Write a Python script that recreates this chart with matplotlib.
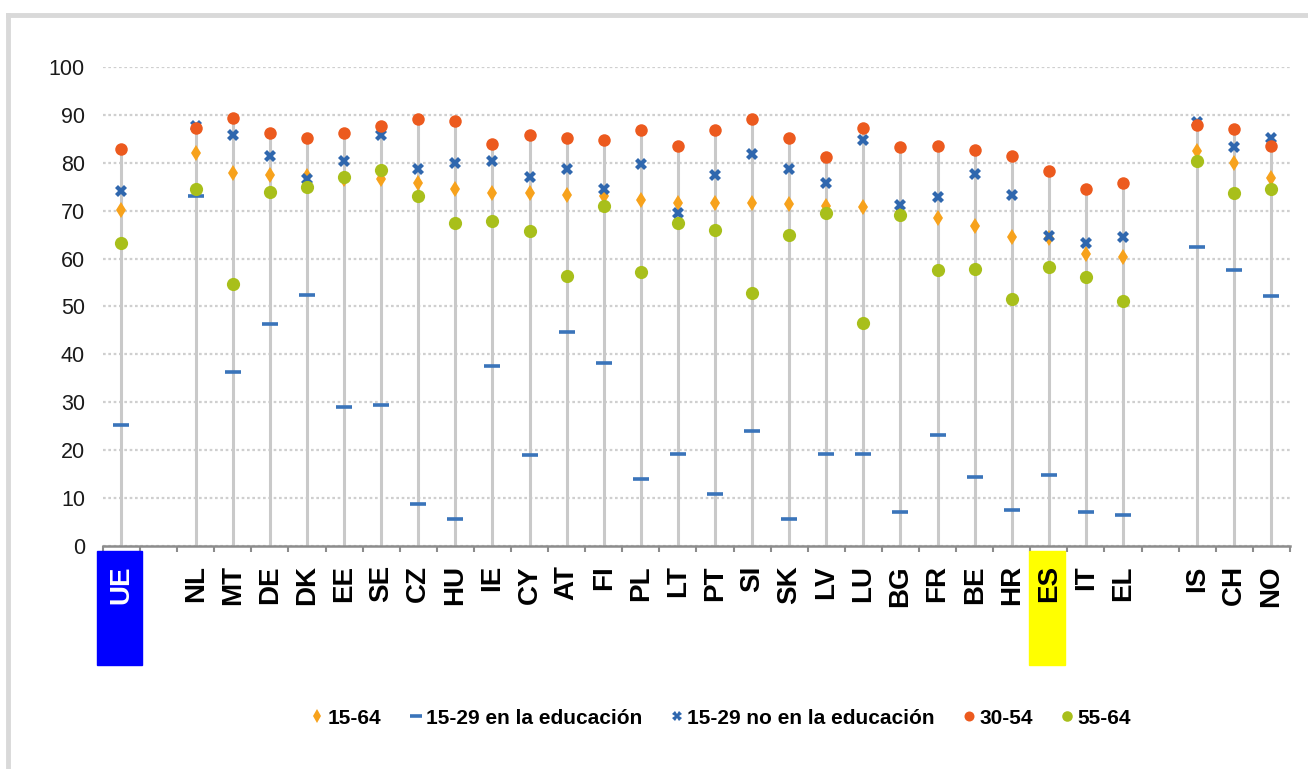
import matplotlib
matplotlib.use("Agg")
import matplotlib.pyplot as plt
import matplotlib.transforms as mtransforms
from matplotlib import font_manager
from matplotlib.lines import Line2D
from matplotlib.patches import Rectangle
import numpy as np

nan = np.nan

countries = ["UE", "", "NL", "MT", "DE", "DK", "EE", "SE", "CZ", "HU", "IE",
             "CY", "AT", "FI", "PL", "LT", "PT", "SI", "SK", "LV", "LU", "BG",
             "FR", "BE", "HR", "ES", "IT", "EL", "", "IS", "CH", "NO"]

age_15_64 = [70.1, nan, 82.1, 77.9, 77.4, 77.2, 76.6, 76.6, 75.7, 74.5, 73.6,
             73.6, 73.3, 73.1, 72.2, 71.6, 71.6, 71.6, 71.3, 71.0, 70.8, 69.8,
             68.4, 66.7, 64.6, 64.2, 60.9, 60.3, nan, 82.5, 80.0, 76.9]
age_15_29_edu = [25.3, nan, 73.1, 36.4, 46.3, 52.4, 29.1, 29.4, 8.7, 5.6, 37.6,
                 18.9, 44.6, 38.1, 13.9, 19.2, 10.8, 24.1, 5.6, 19.2, 19.2, 7.2,
                 23.2, 14.5, 7.5, 14.8, 7.2, 6.4, nan, 62.4, 57.7, 52.2]
age_15_29_no_edu = [74.2, nan, 87.6, 85.8, 81.4, 76.7, 80.3, 85.7, 78.6, 80.0, 80.4,
                    77.1, 78.6, 74.6, 79.7, 69.6, 77.4, 81.8, 78.6, 75.7, 84.8, 71.2,
                    72.9, 77.7, 73.3, 64.7, 63.2, 64.6, nan, 88.6, 83.2, 85.1]
age_30_54 = [82.9, nan, 87.3, 89.3, 86.2, 85.2, 86.2, 87.7, 89.1, 88.8, 83.9,
             85.9, 85.2, 84.8, 86.8, 83.5, 86.8, 89.1, 85.2, 81.2, 87.3, 83.2,
             83.5, 82.7, 81.5, 78.3, 74.5, 75.7, nan, 87.9, 87.0, 83.5]
age_55_64 = [63.2, nan, 74.6, 54.7, 73.9, 75.0, 77.1, 78.4, 73.1, 67.5, 67.8,
             65.8, 56.4, 71.0, 57.1, 67.5, 66.0, 52.9, 64.9, 69.6, 46.6, 69.2,
             57.6, 57.9, 51.6, 58.2, 56.2, 51.2, nan, 80.3, 73.6, 74.5]

series_labels = ["15-64", "15-29 en la educación", "15-29 no en la educación",
                 "30-54", "55-64"]
highlight = {"UE": "#0000FF", "ES": "#FFFF00"}

installed = {f.name for f in font_manager.fontManager.ttflist}
narrow = "Liberation Sans Narrow" in installed
small_font = "Liberation Sans Narrow" if narrow else "Liberation Sans"

x = np.arange(len(countries))
all_series = np.array([age_15_64, age_15_29_edu, age_15_29_no_edu,
                       age_30_54, age_55_64], dtype=float)

fig = plt.figure(figsize=(13.08, 7.69), dpi=100)
ax = fig.add_axes([0.0787, 0.290, 0.9075, 0.6229])

# drop lines from the axis to the highest value of each country
tops = np.nanmax(np.where(np.isnan(all_series), -1, all_series), axis=0)
for xi, top in zip(x, tops):
    if top > 0:
        ax.plot([xi, xi], [0, top], color="#c9c9c9", linewidth=2.2,
                zorder=1, solid_capstyle="butt")

styles = [
    dict(marker="d", color="#F7A21C", markersize=8.5),
    dict(marker="_", color="#3A74BA", markersize=11, markeredgewidth=2.6),
    dict(marker="X", color="#2F67AE", markersize=8.5),
    dict(marker="o", color="#EC5A1E", markersize=9),
    dict(marker="o", color="#A8BF1B", markersize=9.5),
]
handles = []
for values, label, style in zip(all_series, series_labels, styles):
    mew = style.get("markeredgewidth", 0)
    rest = {k: v for k, v in style.items() if k != "markeredgewidth"}
    ax.plot(x, values, linestyle="none", zorder=3, markeredgewidth=mew, **rest)
    handles.append(Line2D([], [], linestyle="none", label=label,
                          markeredgewidth=mew, **rest))

ax.set_xlim(-0.5, len(countries) - 0.5)
ax.set_ylim(0, 100)
ax.set_yticks(np.arange(0, 101, 10))
ax.grid(axis="y", color="#cfcfcf", linestyle=(0, (1.2, 1.2)), linewidth=1.6, zorder=0)
ax.set_axisbelow(True)

for side in ["left", "right", "top"]:
    ax.spines[side].set_visible(False)
ax.spines["bottom"].set_color("#8c8c8c")
ax.spines["bottom"].set_linewidth(1.8)
ax.spines["bottom"].set_zorder(4)

ax.tick_params(axis="y", length=0, pad=13, labelsize=18 if narrow else 15.5)
for lab in ax.get_yticklabels():
    lab.set_fontfamily(small_font)
    lab.set_color("#1a1a1a")

ax.set_xticks(np.arange(-0.5, len(countries), 1.0))
ax.set_xticklabels([])
ax.tick_params(axis="x", which="major", direction="out", length=4,
               width=1.5, color="#8c8c8c")

trans = mtransforms.blended_transform_factory(ax.transData, ax.transAxes)
for xi, name in zip(x, countries):
    if not name:
        continue
    color = "white" if name == "UE" else "black"
    if name in highlight:
        half = 0.6 if name == "UE" else 0.48
        ax.add_patch(Rectangle((xi - half - 0.05, -0.248), 2 * half, 0.238,
                               transform=trans, color=highlight[name],
                               clip_on=False, zorder=2))
    ax.text(xi, -0.04, name, transform=trans, rotation=90, ha="center",
            va="top", fontsize=20, fontweight="bold", color=color,
            family="Liberation Sans", zorder=5)

fig.legend(handles=handles, loc="center", bbox_to_anchor=(0.551, 0.066),
           ncol=5, frameon=False, handlelength=0.7, handletextpad=0.15,
           columnspacing=1.3, markerscale=0.8,
           prop=dict(family=small_font, weight="bold",
                     size=18 if narrow else 15))

# light frame on the left and top edges
fig.add_artist(Line2D([8 / 1308, 8 / 1308], [0, 1 - 15 / 769],
                      transform=fig.transFigure, color="#d9d9d9", linewidth=3.5))
fig.add_artist(Line2D([8 / 1308, 1], [1 - 15 / 769, 1 - 15 / 769],
                      transform=fig.transFigure, color="#d9d9d9", linewidth=3.5))

fig.savefig("out.png", dpi=100)
plt.close(fig)
